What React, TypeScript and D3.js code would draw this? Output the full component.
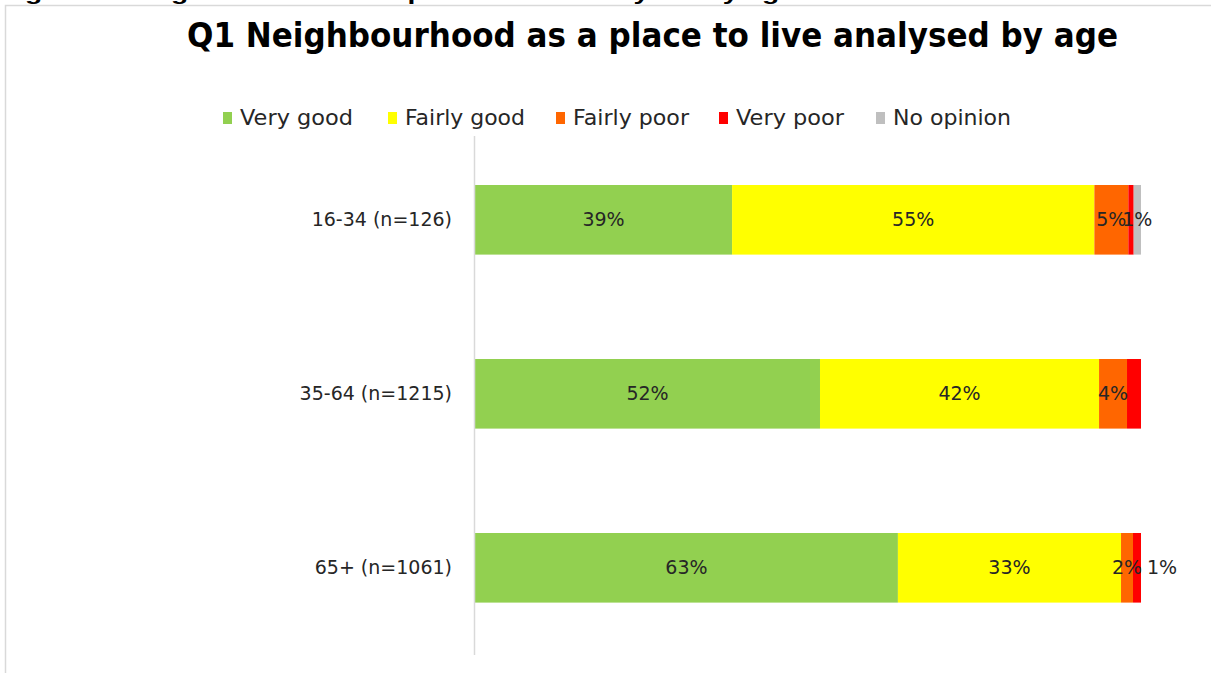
import * as d3 from "d3";
import { useRef, useEffect } from "react";

const WIDTH = 1211;
const HEIGHT = 673;

const categories = ["16-34 (n=126)", "35-64 (n=1215)", "65+ (n=1061)"];
const seriesNames = ["Very good", "Fairly good", "Fairly poor", "Very poor", "No opinion"];
const colors = ["#92d050", "#ffff00", "#ff6600", "#ff0000", "#bfbfbf"];

const veryGood = [38.6, 51.8, 63.5];
const fairlyGood = [54.4, 41.9, 33.5];
const fairlyPoor = [5.1, 4.2, 1.8];
const veryPoor = [0.8, 2.1, 1.2];
const noOpinion = [1.1, 0, 0];

// shown data labels (empty = hidden)
const veryGoodLabels = ["39%", "52%", "63%"];
const fairlyGoodLabels = ["55%", "42%", "33%"];
const fairlyPoorLabels = ["5%", "4%", "2%"];
const veryPoorLabels = ["", "", "1%"];
const noOpinionLabels = ["1%", "", ""];

const LEGEND_X = [223, 388, 556, 719, 876];
const LEGEND_W = [113, 120, 116, 108, 118];
const FONT = "'DejaVu Sans', sans-serif";

export default function App() {
  const svgRef = useRef(null);

  useEffect(() => {
    const svg = d3.select(svgRef.current);
    svg.selectAll("*").remove();

    const values = [veryGood, fairlyGood, fairlyPoor, veryPoor, noOpinion];
    const labels = [veryGoodLabels, fairlyGoodLabels, fairlyPoorLabels, veryPoorLabels, noOpinionLabels];

    const table = categories.map((c, i) => {
      const row: any = { cat: c };
      seriesNames.forEach((s, j) => (row[s] = values[j][i]));
      return row;
    });
    const stacked = d3.stack().keys(seriesNames)(table);

    const x = d3.scaleLinear().domain([0, 100]).range([475, 1141]);
    const y = d3
      .scaleBand()
      .domain(categories)
      .range([98, 689.6])
      .paddingInner(0.6)
      .paddingOuter(0.5);

    // caption cut off at the top edge, as in the source image
    svg
      .append("text")
      .attr("x", 0)
      .attr("y", 0)
      .attr("textLength", 795)
      .attr("lengthAdjust", "spacingAndGlyphs")
      .style("font-family", "'Liberation Sans', Arial, sans-serif")
      .style("font-weight", "bold")
      .style("font-size", "20px")
      .attr("fill", "#000")
      .text("Figure 1: Neighbourhood as a place to live analysed by age");

    // chart frame
    svg
      .append("path")
      .attr("d", `M5.5,${HEIGHT} V5.5 H${WIDTH}`)
      .attr("fill", "none")
      .attr("stroke", "#d9d9d9")
      .attr("stroke-width", 1.5);

    // title
    svg
      .append("text")
      .attr("x", 187)
      .attr("y", 47)
      .attr("textLength", 931)
      .attr("lengthAdjust", "spacingAndGlyphs")
      .style("font-family", FONT)
      .style("font-weight", "bold")
      .style("font-size", "34px")
      .attr("fill", "#000")
      .text("Q1 Neighbourhood as a place to live analysed by age");

    // legend
    const legend = svg.append("g");
    seriesNames.forEach((s, i) => {
      legend
        .append("rect")
        .attr("x", LEGEND_X[i])
        .attr("y", 112)
        .attr("width", 9)
        .attr("height", 12)
        .attr("fill", colors[i]);
      legend
        .append("text")
        .attr("x", LEGEND_X[i] + 17)
        .attr("y", 118)
        .attr("dy", "0.35em")
        .attr("textLength", LEGEND_W[i])
        .attr("lengthAdjust", "spacingAndGlyphs")
        .style("font-family", FONT)
        .style("font-size", "21px")
        .attr("fill", "#262626")
        .text(s);
    });

    // bars
    const g = svg.append("g");
    stacked.forEach((layer, j) => {
      g.selectAll(null)
        .data(layer)
        .enter()
        .append("rect")
        .attr("x", (d) => x(d[0]))
        .attr("y", (d) => y(d.data.cat))
        .attr("width", (d) => x(d[1]) - x(d[0]))
        .attr("height", y.bandwidth())
        .attr("fill", colors[j]);
    });

    // axis line
    g.append("line")
      .attr("x1", 474.5)
      .attr("x2", 474.5)
      .attr("y1", 136)
      .attr("y2", 655)
      .attr("stroke", "#d9d9d9")
      .attr("stroke-width", 1.5);

    // category labels
    g.selectAll(".cat")
      .data(categories)
      .enter()
      .append("text")
      .attr("x", 452)
      .attr("y", (d) => y(d) + y.bandwidth() / 2)
      .attr("dy", "0.35em")
      .attr("text-anchor", "end")
      .style("font-family", FONT)
      .style("font-size", "19px")
      .attr("fill", "#262626")
      .text((d) => d);

    // data labels
    stacked.forEach((layer, j) => {
      layer.forEach((d, i) => {
        const txt = labels[j][i];
        if (!txt) return;
        const outside = seriesNames[j] === "Very poor";
        g.append("text")
          .attr("x", outside ? x(d[1]) + 6 : (x(d[0]) + x(d[1])) / 2)
          .attr("y", y(d.data.cat) + y.bandwidth() / 2)
          .attr("dy", "0.35em")
          .attr("text-anchor", outside ? "start" : "middle")
          .style("font-family", FONT)
          .style("font-size", "19px")
          .attr("fill", "#262626")
          .text(txt);
      });
    });
  }, []);

  return (
    <svg
      ref={svgRef}
      width={WIDTH}
      height={HEIGHT}
      style={{ position: "absolute", left: 0, top: 0, background: "#fff" }}
    />
  );
}
